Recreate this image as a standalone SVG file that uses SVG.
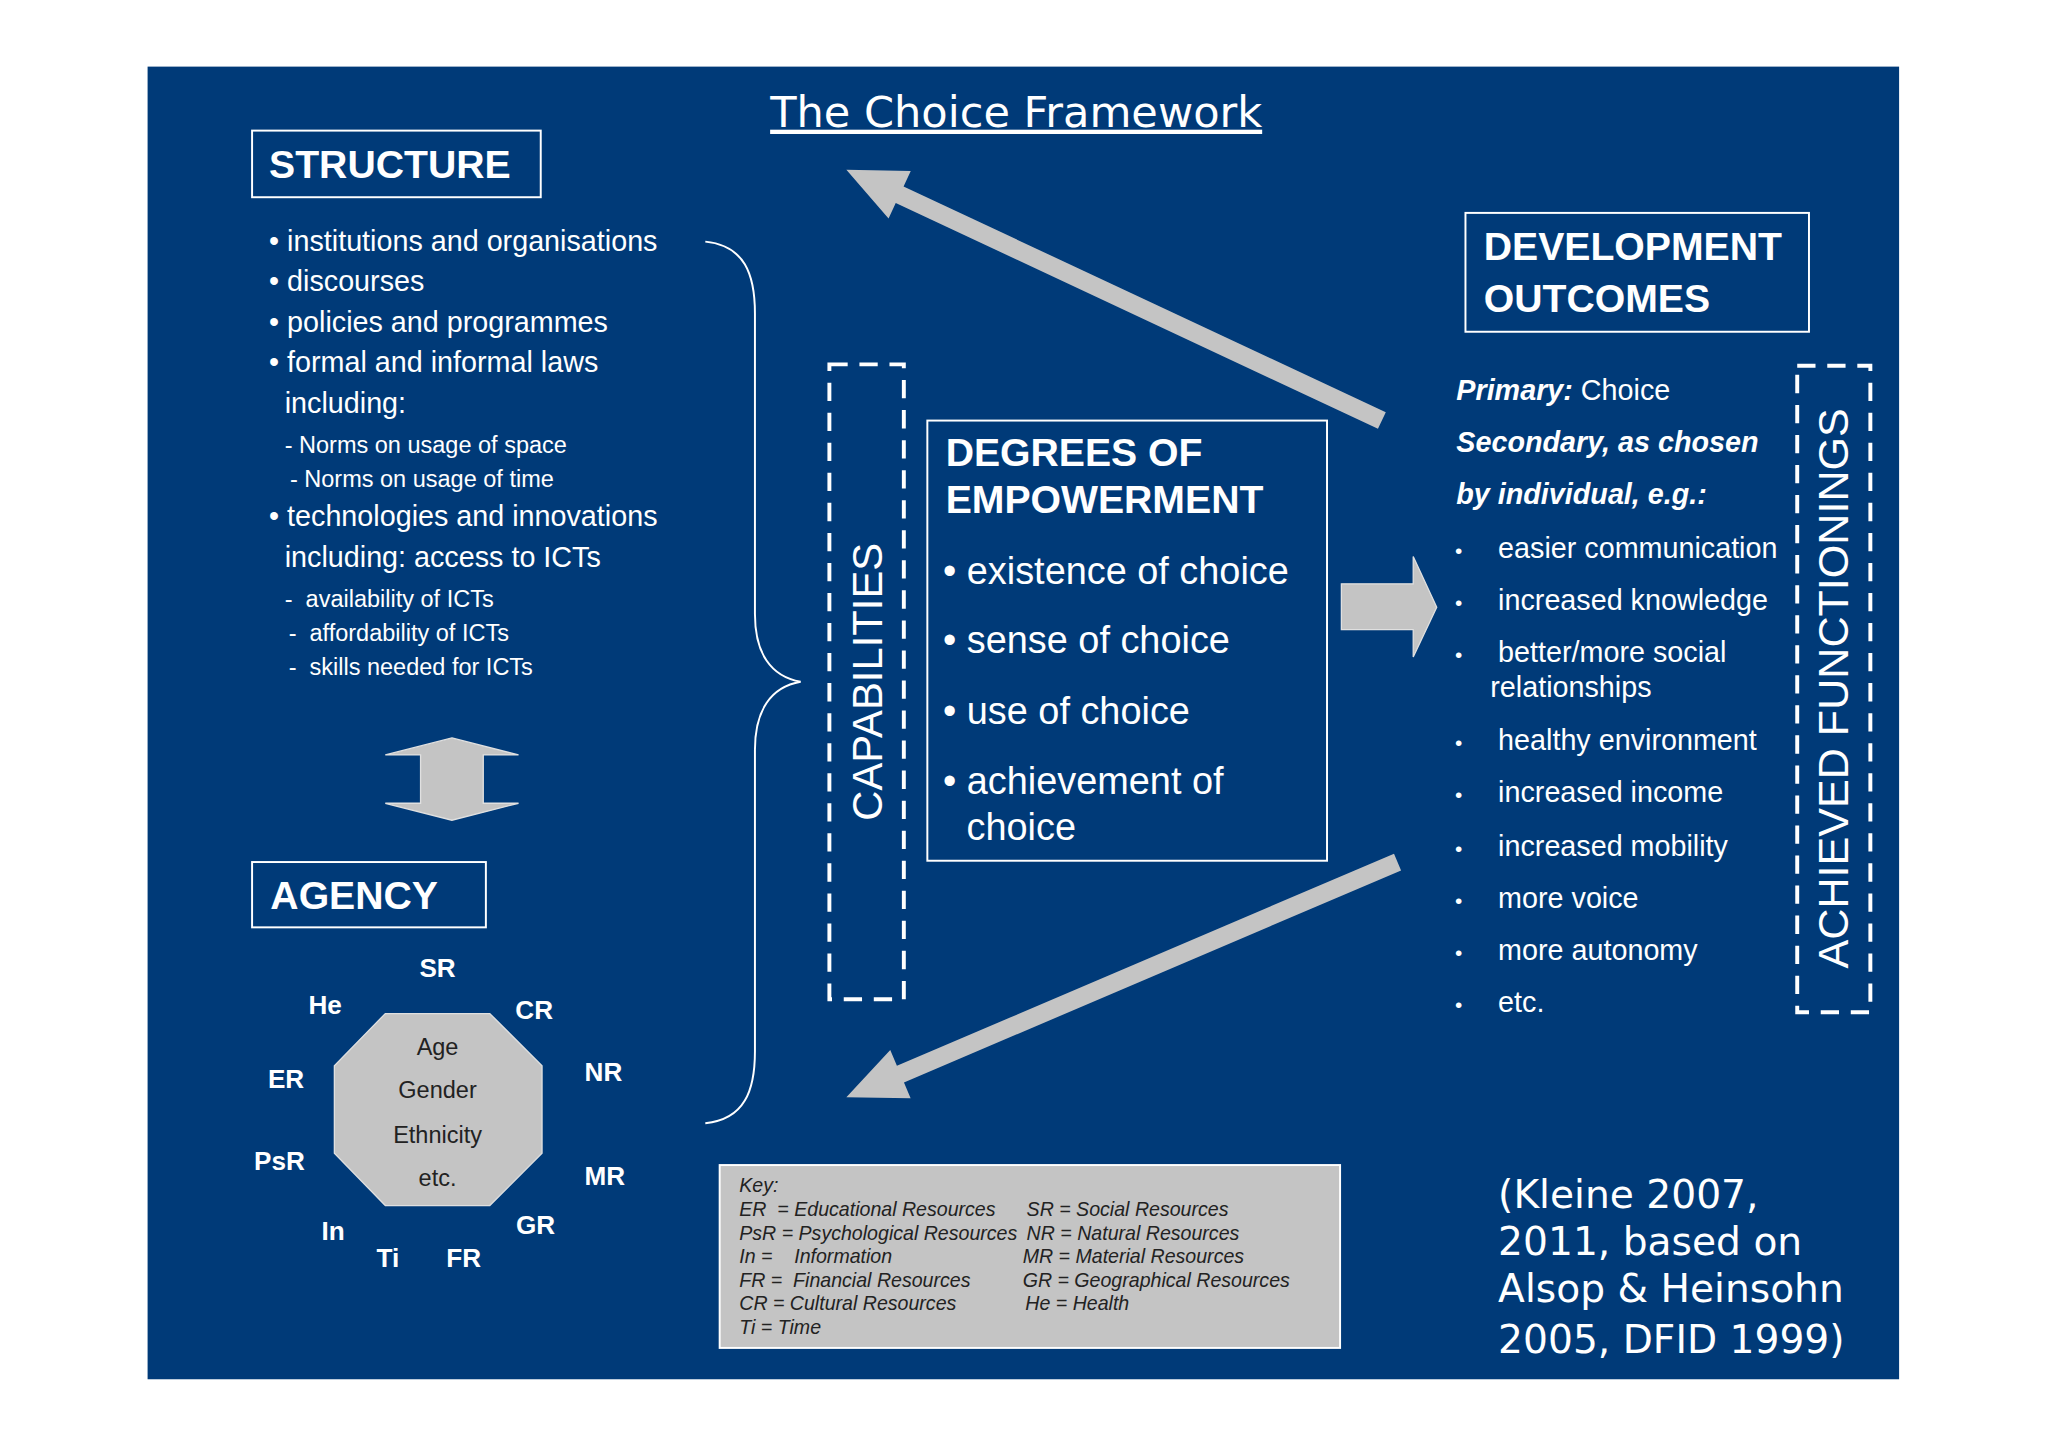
<svg xmlns="http://www.w3.org/2000/svg" width="2048" height="1447" viewBox="0 0 2048 1447">
<style>
.w{fill:#fff;font-family:"Liberation Sans",Arial,sans-serif}
.b{font-weight:bold}
.box{fill:none;stroke:#fff;stroke-width:1.5}
.dash{fill:none;stroke:#fff;stroke-width:3;stroke-dasharray:14 9}
.gr{fill:#c4c4c4;stroke:#e0e0e0;stroke-width:1}
.k{fill:#222;font-family:"Liberation Sans",Arial,sans-serif;font-style:italic;font-size:15px;white-space:pre}
.v{fill:#fff;font-family:"DejaVu Sans",Verdana,sans-serif}
.pre{white-space:pre}
</style>
<rect width="2048" height="1447" fill="#fff"/>
<g transform="scale(1.30612)">
<rect x="113" y="51" width="1341" height="1005" fill="#003a78"/>
<g id="title"><text class="v" x="778" y="97" font-size="33" text-anchor="middle" text-decoration="underline">The Choice Framework</text></g>
<g id="structure">
<rect class="box" x="193" y="100" width="221" height="51"/>
<text class="w b" x="206" y="136" font-size="30">STRUCTURE</text>
<g class="w" font-size="22">
<text x="206" y="192">• institutions and organisations</text>
<text x="206" y="223">• discourses</text>
<text x="206" y="254">• policies and programmes</text>
<text x="206" y="285">• formal and informal laws</text>
<text x="218" y="316">including:</text>
<text x="218" y="347" font-size="18">- Norms on usage of space</text>
<text x="222" y="373" font-size="18">- Norms on usage of time</text>
<text x="206" y="403">• technologies and innovations</text>
<text x="218" y="434">including: access to ICTs</text>
<text class="pre" x="218" y="465" font-size="18">-  availability of ICTs</text>
<text class="pre" x="221" y="491" font-size="18">-  affordability of ICTs</text>
<text class="pre" x="221" y="517" font-size="18">-  skills needed for ICTs</text>
</g>
</g>
<g id="brace"><path d="M540,185 C570,188 578,210 578,240 L578,470 C578,500 590,518 613,522 C590,526 578,544 578,574 L578,805 C578,835 570,857 540,860" fill="none" stroke="#fff" stroke-width="1.5"/></g>
<g id="dblarrow"><polygon class="gr" points="346,565 397,578 370,578 370,615 397,615 346,628 295,615 322,615 322,578 295,578"/></g>
<g id="agency">
<rect class="box" x="193" y="660" width="179" height="50"/>
<text class="w b" x="207" y="696" font-size="30">AGENCY</text>
<polygon class="gr" points="295,776 375,776 415,816 415,883 375,923 295,923 256,883 256,816"/>
<g fill="#222" font-family="Liberation Sans,Arial,sans-serif" font-size="18" text-anchor="middle">
<text x="335" y="808">Age</text><text x="335" y="841">Gender</text><text x="335" y="875">Ethnicity</text><text x="335" y="908">etc.</text>
</g>
<g class="w b" font-size="20" text-anchor="middle">
<text x="335" y="748">SR</text><text x="249" y="776">He</text><text x="409" y="780">CR</text><text x="219" y="833">ER</text><text x="462" y="828">NR</text><text x="214" y="896">PsR</text><text x="463" y="907">MR</text><text x="255" y="949">In</text><text x="410" y="945">GR</text><text x="297" y="970">Ti</text><text x="355" y="970">FR</text>
</g>
</g>
<g id="capabilities">
<rect class="dash" x="635" y="279" width="57" height="486"/>
<text class="w" transform="translate(675,522) rotate(-90)" font-size="32" text-anchor="middle">CAPABILITIES</text>
</g>
<g id="degrees">
<rect class="box" x="710" y="322" width="306" height="337"/>
<text class="w b" x="724" y="357" font-size="30">DEGREES OF</text>
<text class="w b" x="724" y="393" font-size="30">EMPOWERMENT</text>
<g class="w" font-size="29">
<text x="722" y="447">• existence of choice</text>
<text x="722" y="500">• sense of choice</text>
<text x="722" y="554">• use of choice</text>
<text x="722" y="608">• achievement of</text>
<text x="740" y="643">choice</text>
</g>
</g>
<g id="connectors">
<polygon class="gr" points="1027,447 1082,447 1082,426 1100,465 1082,503 1082,482 1027,482"/>
<polygon fill="#c4c4c4" points="1061,315.7 691.8,142.8 697.3,131 648,130 680.3,167.2 685.8,155.4 1055,328.3"/>
<polygon fill="#c4c4c4" points="1072.7,666.4 692.1,828.8 697.2,840.8 648,840 681.6,804 686.7,816 1067.3,653.6"/>
</g>
<g id="outcomes">
<rect class="box" x="1122" y="163" width="263" height="91"/>
<text class="w b" x="1136" y="199" font-size="30">DEVELOPMENT</text>
<text class="w b" x="1136" y="239" font-size="30">OUTCOMES</text>
<g class="w" font-size="22">
<text x="1115" y="306"><tspan font-weight="bold" font-style="italic">Primary:</tspan> Choice</text>
<text x="1115" y="346" font-weight="bold" font-style="italic">Secondary, as chosen</text>
<text x="1115" y="386" font-weight="bold" font-style="italic">by individual, e.g.:</text>
<g font-size="16"><text x="1114" y="427">•</text><text x="1114" y="467">•</text><text x="1114" y="507">•</text><text x="1114" y="574">•</text><text x="1114" y="614">•</text><text x="1114" y="655">•</text><text x="1114" y="695">•</text><text x="1114" y="735">•</text><text x="1114" y="775">•</text></g>
<text x="1147" y="427">easier communication</text>
<text x="1147" y="467">increased knowledge</text>
<text x="1147" y="507">better/more social</text>
<text x="1141" y="534">relationships</text>
<text x="1147" y="574">healthy environment</text>
<text x="1147" y="614">increased income</text>
<text x="1147" y="655">increased mobility</text>
<text x="1147" y="695">more voice</text>
<text x="1147" y="735">more autonomy</text>
<text x="1147" y="775">etc.</text>
</g>
</g>
<g id="functionings">
<rect class="dash" x="1376" y="280" width="56" height="495"/>
<text class="w" transform="translate(1415,527) rotate(-90)" font-size="33" text-anchor="middle">ACHIEVED FUNCTIONINGS</text>
</g>
<g id="key">
<rect x="551" y="892" width="475" height="140" fill="#c4c4c4" stroke="#fff" stroke-width="1.5"/>
<text class="k" x="566" y="913">Key:</text>
<text class="k" x="566" y="931">ER  = Educational Resources</text>
<text class="k" x="566" y="949">PsR = Psychological Resources</text>
<text class="k" x="566" y="967">In =    Information</text>
<text class="k" x="566" y="985">FR =  Financial Resources</text>
<text class="k" x="566" y="1003">CR = Cultural Resources</text>
<text class="k" x="566" y="1021">Ti = Time</text>
<text class="k" x="786" y="931">SR = Social Resources</text>
<text class="k" x="786" y="949">NR = Natural Resources</text>
<text class="k" x="783" y="967">MR = Material Resources</text>
<text class="k" x="783" y="985">GR = Geographical Resources</text>
<text class="k" x="785" y="1003">He = Health</text>
</g>
<g id="citation" class="v" font-size="30">
<text x="1147" y="925">(Kleine 2007,</text>
<text x="1147" y="961">2011, based on</text>
<text x="1147" y="997">Alsop &amp; Heinsohn</text>
<text x="1147" y="1036">2005, DFID 1999)</text>
</g>
</g>
</svg>
